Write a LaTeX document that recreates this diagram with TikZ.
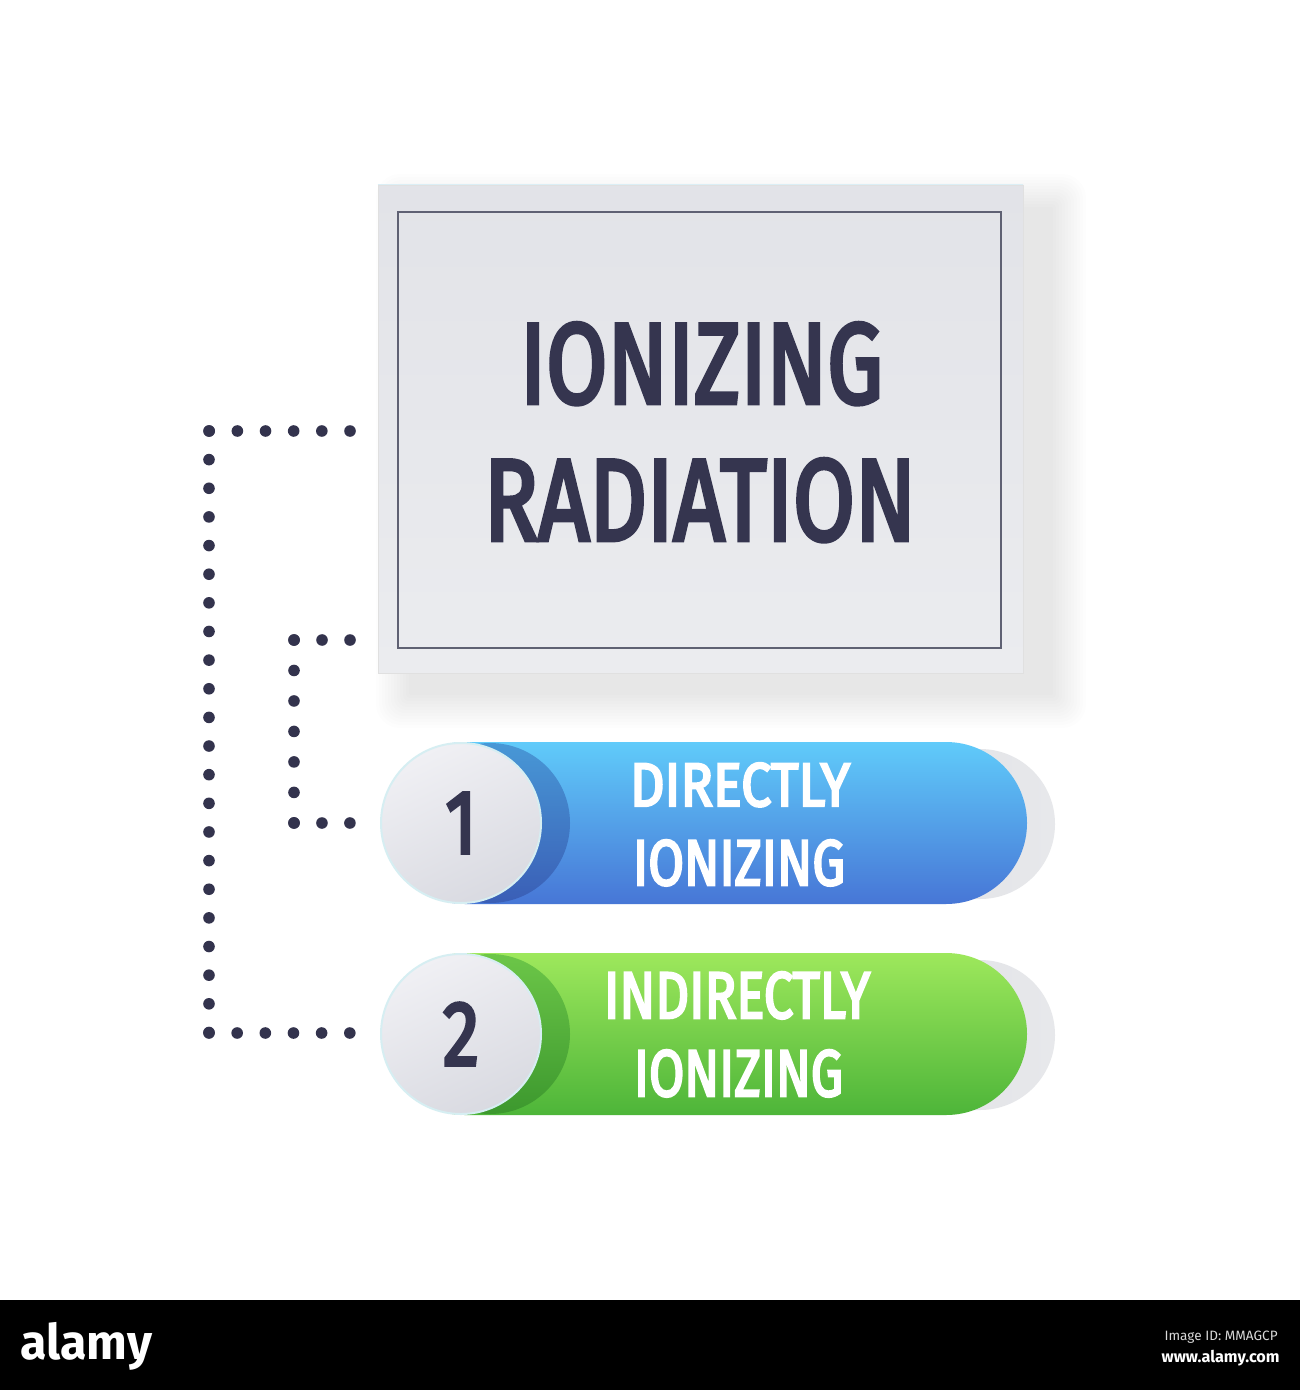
\documentclass[tikz,border=0pt]{standalone}
\usepackage{fontspec}
\setmainfont{Fira Sans}
\newfontfamily\medfont[FakeBold=4]{Fira Sans}
\usepackage{graphicx}
\definecolor{ink}{HTML}{35354F}
\definecolor{dotc}{HTML}{33334D}
\definecolor{boxA}{HTML}{E2E3E8}
\definecolor{boxB}{HTML}{EBECEF}
\definecolor{framec}{HTML}{5F6173}
\definecolor{bTop}{HTML}{60CBFA}
\definecolor{bBot}{HTML}{4776D6}
\definecolor{bDkTop}{HTML}{4898D6}
\definecolor{bDkBot}{HTML}{3A5EB6}
\definecolor{gTop}{HTML}{9EE85C}
\definecolor{gBot}{HTML}{4DB539}
\definecolor{gDkTop}{HTML}{6CC648}
\definecolor{gDkBot}{HTML}{3C982E}
\definecolor{cirA}{HTML}{F0F0F4}
\definecolor{cirB}{HTML}{D9DAE1}
\definecolor{rim}{HTML}{D6EEF2}
\definecolor{backA}{HTML}{D3D4D9}
\definecolor{backB}{HTML}{E7E8EB}
\tikzset{
  dotline/.style={draw=dotc, line width=5.8pt, line cap=round, dash pattern=on 0pt off #1},
  numcircle/.style={circle, minimum size=80pt, inner sep=0pt, draw=rim, line width=1pt,
     shading=axis, top color=cirA, bottom color=cirB, shading angle=25, text=ink},
  txt/.style={inner sep=0pt, outer sep=0pt, anchor=north west, font=\medfont},
}
\begin{document}
\begin{tikzpicture}[x=0.5pt,y=-0.5pt]
\useasboundingbox (0,0) rectangle (1300,1390);
\fill[white] (0,0) rectangle (1300,1390);

% soft shadow of the main box
\foreach \k in {1,...,12}
  \fill[black, opacity=0.009, rounded corners=\k pt]
    (412-3*\k,210-3*\k) rectangle (1050+3*\k,692+3*\k);

% main box
\node[shading=axis, top color=boxA, bottom color=boxB, draw=black!12, line width=0.4pt,
      minimum width=322.5pt, minimum height=244pt, inner sep=0pt] (main) at (700.5,429) {};
\draw[color=black!25!cyan!15!white, line width=0.8pt] (main.north west) -- (main.north east);
\node[draw=framec, line width=0.7pt, minimum width=301.5pt, minimum height=218pt, inner sep=0pt]
      (frame) at (699.5,430) {};
\node[txt, text=ink] (t1) at (520,323) {\resizebox{181.5pt}{40pt}{IONIZING}};
\node[txt, text=ink] (t2) at (484,459) {\resizebox{216pt}{40.5pt}{RADIATION}};

% ---------- pill 1 ----------
\shade[left color=backA, right color=backB, rounded corners=37.5pt] (470,749) rectangle (1055,899);
\path[shading=axis, top color=bTop, bottom color=bBot, rounded corners=40.5pt] (384,742) rectangle (1027,904);
\begin{scope}
  \clip[rounded corners=40.5pt] (384,742) rectangle (1027,904);
  \shade[top color=bDkTop, bottom color=bDkBot] (490,823) circle[radius=40pt];
\end{scope}
\node[numcircle, font=\medfont] (c1) at (461,823) {\scalebox{0.8}[1]{\resizebox{!}{30pt}{1}}};
\node[txt, text=white] (p1a) at (630,763) {\resizebox{110pt}{21.5pt}{DIRECTLY}};
\node[txt, text=white] (p1b) at (633,840) {\resizebox{106pt}{22.5pt}{IONIZING}};

% ---------- pill 2 ----------
\shade[left color=backA, right color=backB, rounded corners=37.5pt] (470,960) rectangle (1055,1110);
\path[shading=axis, top color=gTop, bottom color=gBot, rounded corners=40.5pt] (384,953) rectangle (1027,1115);
\begin{scope}
  \clip[rounded corners=40.5pt] (384,953) rectangle (1027,1115);
  \shade[top color=gDkTop, bottom color=gDkBot] (490,1034) circle[radius=40pt];
\end{scope}
\node[numcircle, font=\medfont] (c2) at (461,1034) {\scalebox{0.8}[1]{\resizebox{!}{31pt}{2}}};
\node[txt, text=white] (p2a) at (604,972) {\resizebox{133pt}{23pt}{INDIRECTLY}};
\node[txt, text=white] (p2b) at (634,1050) {\resizebox{104.5pt}{23pt}{IONIZING}};

% ---------- dotted connectors ----------
\coordinate (oa) at (350,431);
\coordinate (ob) at (209,431);
\coordinate (oc) at (209,1033);
\coordinate (od) at (350,1033);
\draw[dotline=14.08pt] (oa) -- (ob);
\draw[dotline=14.32pt] (ob) -- (oc);
\draw[dotline=14.08pt] (oc) -- (od);

\coordinate (ia) at (350,640);
\coordinate (ib) at (294,640);
\coordinate (ic) at (294,823);
\coordinate (id) at (350,823);
\draw[dotline=13.98pt] (ia) -- (ib);
\draw[dotline=15.24pt] (ib) -- (ic);
\draw[dotline=13.98pt] (ic) -- (id);

% ---------- bottom bar ----------
\fill[black] (0,1300) rectangle (1300,1390);
\node[txt, text=white, font=\bfseries] (logo) at (20,1322) {\resizebox*{66pt}{24pt}{alamy}};
\node[inner sep=0pt, anchor=north east, text=white!85!black] (imgid) at (1278,1331)
   {\resizebox{56.5pt}{!}{Image ID: MMAGCP}};
\node[inner sep=0pt, anchor=north east, text=white, font=\bfseries] (www) at (1280,1350)
   {\resizebox{59pt}{!}{www.alamy.com}};
\end{tikzpicture}
\end{document}
